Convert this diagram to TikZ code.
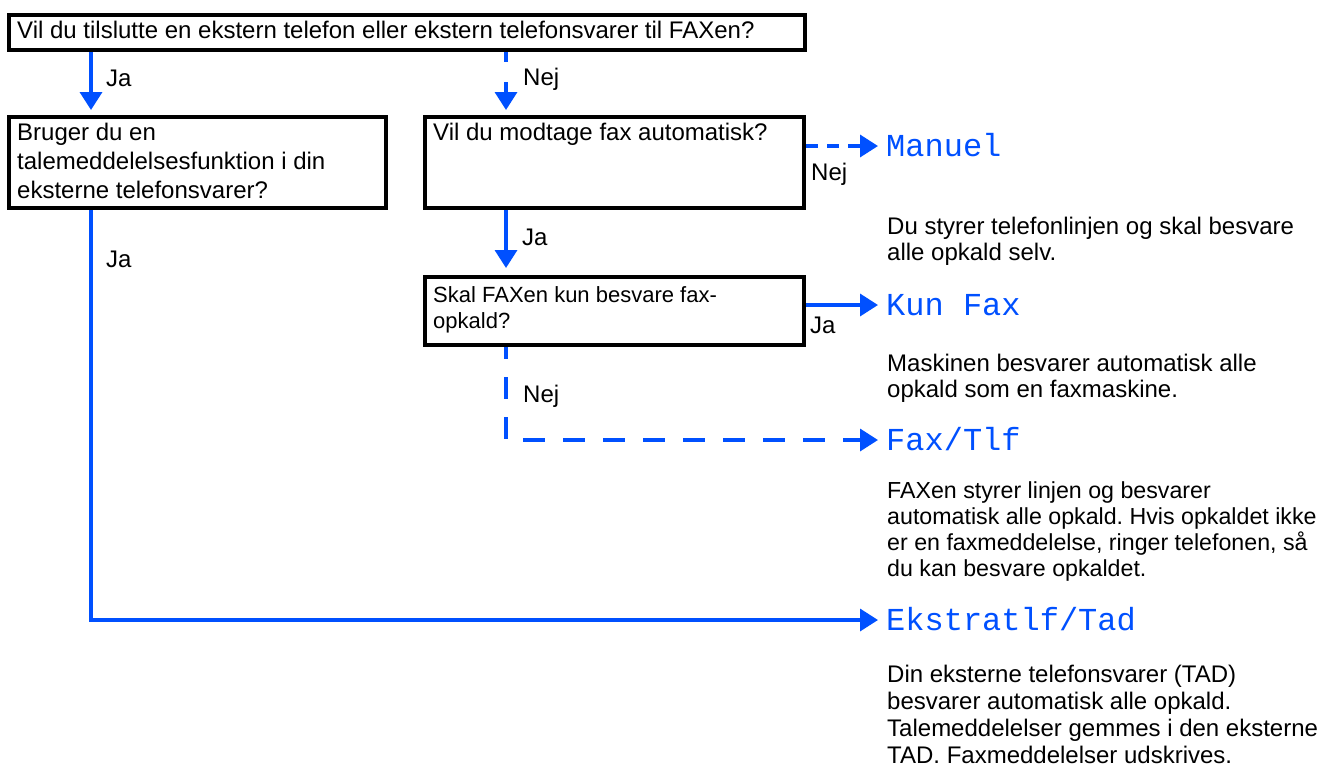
\documentclass[tikz,border=0pt]{standalone}
\usepackage{fontspec}
\setmainfont{Liberation Sans}
\newfontfamily\lcdfont{Liberation Mono}
\usetikzlibrary{arrows.meta}
\frenchspacing
\definecolor{faxblue}{RGB}{0,80,255}
\tikzset{
  qbox/.style={draw, line width=4pt, inner sep=0pt, outer sep=2pt, anchor=north west},
  qtext/.style={anchor=base west, inner sep=0pt, align=left, font=\fontsize{24}{29}\selectfont},
  answer/.style={anchor=base west, inner sep=0pt, font=\fontsize{24}{24}\selectfont},
  modus/.style={anchor=west, inner xsep=8pt, inner ysep=0pt, text=faxblue,
    font=\lcdfont\fontsize{32}{32}\selectfont, text height=21pt, text depth=0pt},
  desc/.style={anchor=base west, inner sep=0pt, align=left, font=\fontsize{24}{26}\selectfont},
  jaline/.style={draw=faxblue, line width=3.5pt, -{Triangle[length=18pt,width=22pt]}},
  nejline/.style={jaline, dash pattern=on 10pt off 20pt}
}
\begin{document}
\begin{tikzpicture}[x=1pt,y=-1pt]
  \useasboundingbox (0,0) rectangle (1321,769);

  % questions (text nodes sit on the baseline of their last line)
  \node[qbox, minimum width=796pt, minimum height=35pt] (q1) at (7,13) {};
  \node[qtext] (q1t) at (17,38) {Vil du tilslutte en ekstern telefon eller ekstern telefonsvarer til FAXen?};
  \node[qbox, minimum width=377pt, minimum height=91pt] (q2) at (7,115) {};
  \node[qtext] (q2t) at (17,198) {Bruger du en\\talemeddelelsesfunktion i din\\eksterne telefonsvarer?};
  \node[qbox, minimum width=379pt, minimum height=91pt] (q3) at (423,115) {};
  \node[qtext] (q3t) at (433,140) {Vil du modtage fax automatisk?};
  \node[qbox, minimum width=379pt, minimum height=68pt] (q4) at (423,275) {};
  \node[qtext, font=\fontsize{22}{26}\selectfont] (q4t) at (433,328) {Skal FAXen kun besvare fax-\\opkald?};

  % modes
  \node[modus] (manuel) at (878,146) {Manuel};
  \node[modus] (kunfax) at (878,305) {Kun Fax};
  \node[modus] (faxtlf) at (878,440) {Fax/Tlf};
  \node[modus] (ekstra) at (878,620) {Ekstratlf/Tad};

  \node[desc] (d1) at (887,260) {Du styrer telefonlinjen og skal besvare\\alle opkald selv.};
  \node[desc] (d2) at (887,397) {Maskinen besvarer automatisk alle\\opkald som en faxmaskine.};
  \node[desc, font=\fontsize{23.2}{26}\selectfont] (d3) at (887,576) {FAXen styrer linjen og besvarer\\automatisk alle opkald. Hvis opkaldet ikke\\er en faxmeddelelse, ringer telefonen, så\\du kan besvare opkaldet.};
  \node[desc, font=\fontsize{24}{27}\selectfont] (d4) at (887,763) {Din eksterne telefonsvarer (TAD)\\besvarer automatisk alle opkald.\\Talemeddelelser gemmes i den eksterne\\TAD. Faxmeddelelser udskrives.};

  % columns for the vertical connectors
  \coordinate (colA) at (91,0);
  \coordinate (colB) at (506,0);

  % connectors
  \draw[jaline, shorten >=5pt] (q1.south -| colA) -- (q2.north -| colA);
  \draw[nejline, shorten >=5pt] (q1.south -| colB) -- (q3.north -| colB);
  \draw[nejline, dash pattern=on 12pt off 9pt] (q3.east |- manuel) -- (manuel.west);
  \draw[jaline, shorten >=7pt] (q3.south -| colB) -- (q4.north -| colB);
  \draw[jaline] (q4.east |- kunfax) -- (kunfax.west);
  \draw[nejline, dash pattern=on 22pt off 18pt, dash phase=10pt] (q4.south -| colB) |- (faxtlf.west);
  \draw[jaline] (q2.south -| colA) |- (ekstra.west);

  % answers
  \node[answer] (ja1) at (106,86) {Ja};
  \node[answer] (nej1) at (523,85) {Nej};
  \node[answer] (ja2) at (106,267) {Ja};
  \node[answer] (nej3) at (811,180) {Nej};
  \node[answer] (ja3) at (522,245) {Ja};
  \node[answer] (ja4) at (810,333) {Ja};
  \node[answer] (nej4) at (523,402) {Nej};
\end{tikzpicture}
\end{document}
